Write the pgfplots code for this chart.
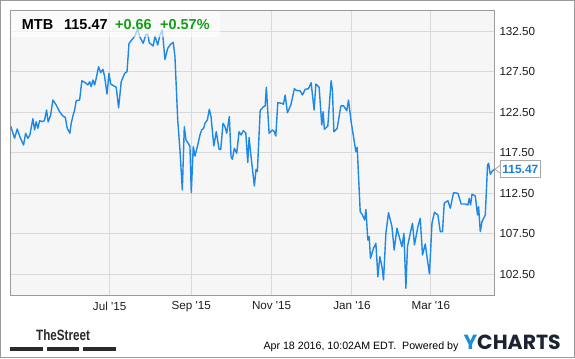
\documentclass[border=0pt]{standalone}
\usepackage{fontspec}
\setmainfont{Liberation Sans}
\newfontfamily\poppins{Poppins}
\usepackage{graphicx}
\usepackage{pgfplots}
\pgfplotsset{compat=1.18}
\definecolor{lineblue}{HTML}{1E88E5}
\definecolor{plotbg}{HTML}{F6F6F6}
\definecolor{gridgray}{HTML}{D9D9D9}
\definecolor{framegray}{HTML}{9A9A9A}
\definecolor{labelgray}{HTML}{1E1E1E}
\definecolor{labelblue}{HTML}{1A80DA}
\definecolor{upgreen}{HTML}{12A012}
\definecolor{boxgray}{HTML}{A8A8A8}
\definecolor{ychblue}{HTML}{1B8FD6}
\definecolor{ychdark}{HTML}{1C2331}
\definecolor{darkbar}{HTML}{2A2A2A}
\begin{document}
\begin{tikzpicture}[x=1bp,y=1bp]
\useasboundingbox (0,0) rectangle (575,358);
\fill[white] (0,0) rectangle (575,358);
\begin{axis}[
  at={(10.5bp,63bp)}, anchor=south west,
  scale only axis, width=484bp, height=284.5bp,
  xmin=-75.3, xmax=292.3, ymin=99.94, ymax=135.07,
  axis background/.style={fill=plotbg},
  axis line style={draw=framegray, line width=0.9bp},
  grid=major, major grid style={draw=gridgray, line width=0.9bp},
  major tick length=0pt,
  xtick={0,62,123,184,244},
  xticklabels={Jul \textquotesingle15, Sep \textquotesingle15, Nov \textquotesingle15, Jan \textquotesingle16, Mar \textquotesingle16},
  ytick={102.5,107.5,112.5,117.5,122.5,127.5,132.5},
  yticklabel pos=right,
  yticklabel style={anchor=west, inner sep=0pt, xshift=4.8bp,
    /pgf/number format/fixed, /pgf/number format/fixed zerofill,
    /pgf/number format/precision=2, /pgf/number format/assume math mode=true},
  xticklabel style={anchor=north, inner sep=0pt, yshift=-6.5bp},
  tick label style={font=\fontsize{11.7}{14}\selectfont, text=labelgray},
  clip mode=individual,
]
\addplot[lineblue, line width=1.4bp, line join=round, mark=none] coordinates {
(-75.2,120.81) (-72.2,119.29) (-70.2,120.44) (-68.2,119.49) (-65.4,118.46)
(-63.8,119.91) (-62.1,119.29) (-60.6,119.70) (-58.3,121.71) (-57.0,120.32)
(-55.8,121.34) (-54.5,120.52) (-53.2,121.46) (-50.7,121.34) (-49.4,121.55)
(-47.9,122.78) (-46.7,121.30) (-44.8,122.17) (-43.1,124.02) (-40.6,123.40)
(-38.0,122.57) (-35.5,122.04) (-33.7,121.88) (-32.2,120.52) (-30.2,119.91)
(-29.2,121.14) (-27.7,122.17) (-26.6,122.78) (-25.4,123.93) (-22.8,124.02)
(-21.1,126.40) (-18.5,126.15) (-16.5,125.87) (-15.2,126.28) (-14.0,125.66)
(-12.7,126.49) (-11.4,125.87) (-10.2,126.70) (-8.4,128.13) (-6.8,127.39)
(-5.1,127.81) (-3.8,126.90) (-2.0,124.76) (-0.5,127.31) (0.8,125.99)
(3.3,125.75) (5.0,125.59) (6.8,123.07) (8.8,126.28) (11.4,127.31)
(13.2,127.51) (14.7,131.02) (17.2,131.51) (19.2,131.92) (21.3,132.87)
(22.8,131.83) (25.5,131.02) (27.4,132.04) (28.9,132.17) (30.1,131.09)
(33.1,130.69) (34.4,131.92) (36.5,130.81) (38.2,132.04) (40.0,132.66)
(42.0,129.04) (44.1,130.40) (45.8,130.81) (48.3,131.14) (49.6,129.36)
(51.7,121.55) (53.4,117.85) (55.2,112.91) (56.7,120.72) (58.0,119.08)
(59.7,118.67) (61.0,118.25) (62.0,112.57) (63.5,118.25) (64.8,117.10)
(66.6,118.25) (68.6,119.70) (69.9,120.32) (71.4,120.52) (72.4,121.14)
(74.2,121.55) (75.7,122.87) (77.0,121.96) (79.1,118.34) (81.0,120.10)
(83.1,117.93) (84.4,117.93) (86.1,121.14) (87.6,120.72) (88.9,119.91)
(90.9,121.96) (92.2,117.02) (93.2,116.70) (94.7,118.06) (96.5,117.44)
(98.3,120.10) (99.8,119.70) (101.6,120.23) (103.4,119.94) (104.9,116.30)
(105.9,119.39) (107.4,117.02) (109.9,113.40) (111.2,115.46) (112.2,115.17)
(114.3,122.70) (116.8,123.19) (118.1,123.28) (119.0,125.59) (121.1,119.91)
(123.6,120.32) (125.1,120.10) (126.2,119.57) (127.7,123.69) (130.7,123.61)
(132.0,123.49) (133.3,124.64) (135.0,122.45) (137.6,123.40) (140.3,125.41)
(142.1,125.17) (144.6,125.17) (146.4,124.64) (148.5,125.34) (151.0,125.41)
(153.0,126.15) (155.3,122.78) (156.6,125.99) (159.1,125.59) (161.1,120.93)
(162.1,122.57) (163.1,120.40) (165.7,120.81) (168.2,126.40) (169.2,125.25)
(170.3,120.10) (172.8,120.52) (175.6,123.28) (177.6,123.31) (180.1,122.70)
(181.4,124.02) (183.4,121.34) (187.0,117.64) (188.0,118.18) (190.3,110.23)
(192.0,109.82) (193.7,109.20) (194.6,110.50) (196.1,106.73) (197.1,107.14)
(198.1,104.48) (200.4,105.71) (202.2,106.33) (203.7,102.20) (205.2,104.67)
(206.8,103.44) (208.0,101.80) (209.8,107.56) (211.8,110.10) (214.4,108.38)
(216.1,105.50) (218.2,108.18) (219.9,107.14) (222.0,105.91) (223.5,107.56)
(225.0,100.77) (226.2,105.91) (228.3,107.56) (230.0,108.80) (231.5,106.12)
(234.1,108.38) (235.9,109.41) (237.6,104.88) (239.7,106.24) (241.0,104.67)
(242.9,102.54) (244.8,108.80) (246.7,110.15) (249.3,109.82) (251.1,107.76)
(252.8,107.76) (254.1,111.27) (256.9,111.59) (258.7,110.65) (261.2,112.57)
(264.5,112.50) (267.0,111.18) (270.1,111.18) (272.1,111.06) (273.1,111.88)
(274.1,111.06) (275.2,112.38) (277.7,112.17) (279.4,109.82) (280.2,110.85)
(281.5,107.76) (282.8,108.99) (285.3,109.82) (287.0,115.99) (287.8,116.20)
(289.1,114.85) (290.8,115.29) (292.3,115.47)
};
\node[anchor=west, xshift=5.5bp, draw=boxgray, fill=white, line width=0.8bp,
      inner sep=0pt, minimum width=40bp, minimum height=16.7bp,
      text=labelblue, font=\bfseries\fontsize{12}{14}\selectfont]
      (lbl) at (axis cs:292.3,115.47) {115.47};
\fill[white] ([yshift=4bp]lbl.west) -- ++(-5bp,-4bp) -- ([yshift=-4bp]lbl.west) -- cycle;
\draw[boxgray, line width=0.8bp] ([yshift=4bp]lbl.west) -- ++(-5bp,-4bp) -- ([yshift=-4bp]lbl.west);
\end{axis}
% title box
\fill[white, opacity=0.6] (11,321.3) rectangle (220,347);
\node[anchor=base west, inner sep=0pt, font=\bfseries\fontsize{14.5}{16}\selectfont, text=black] at (21.7,329) {MTB};
\node[anchor=base west, inner sep=0pt, font=\bfseries\fontsize{14.5}{16}\selectfont, text=black] at (64,329) {115.47};
\node[anchor=base west, inner sep=0pt, font=\bfseries\fontsize{14.5}{16}\selectfont, text=upgreen] at (115,329) {+0.66};
\node[anchor=base west, inner sep=0pt, font=\bfseries\fontsize{14.5}{16}\selectfont, text=upgreen] at (160,329) {+0.57\%};
% footer
\node[anchor=base west, inner sep=0pt, font=\bfseries\fontsize{15}{16}\selectfont, text=darkbar] at (36,17.3) {\scalebox{0.78}[1]{TheStreet}};
\fill[darkbar] (10,7.3) rectangle (42.7,10.7);
\fill[darkbar] (46.7,7.3) rectangle (79,10.7);
\fill[darkbar] (83.3,7.3) rectangle (115.7,10.7);
\node[anchor=base west, inner sep=0pt, font=\fontsize{10.7}{13}\selectfont, text=black] at (263.3,9) {Apr 18 2016, 10:02AM EDT.\ \ Powered by};
\node[anchor=base west, inner sep=0pt, font=\poppins\bfseries\fontsize{20.5}{22}\selectfont] at (463.3,9) {\textcolor{ychblue}{Y}\textcolor{ychdark}{CHARTS}};
% outer border
\draw[framegray, line width=1.3bp] (0.65,0.65) rectangle (574.35,357.35);
\end{tikzpicture}
\end{document}
